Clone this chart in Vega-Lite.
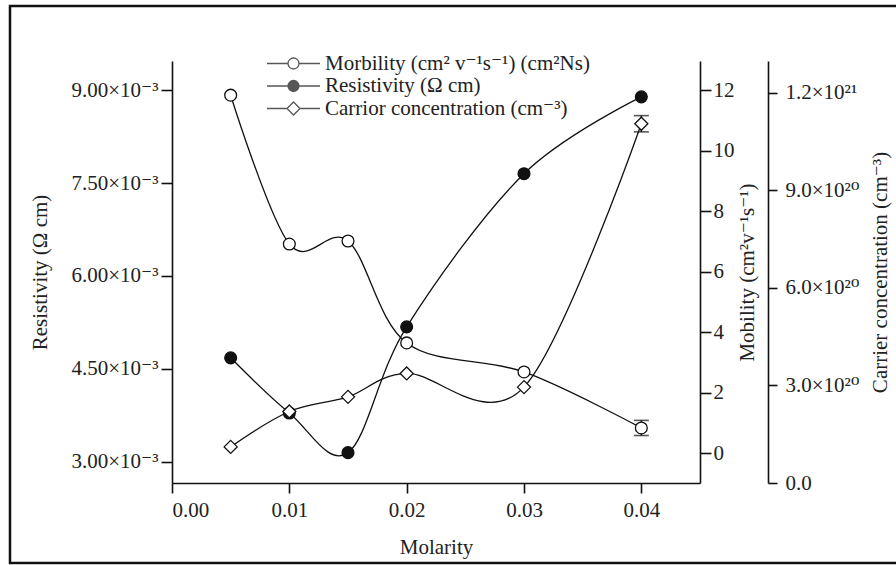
{
  "$schema": "https://vega.github.io/schema/vega-lite/v6.json",
  "width": 528,
  "height": 422,
  "autosize": {"type": "none"},
  "padding": {"left": 172, "top": 61, "right": 196, "bottom": 82},
  "background": "white",
  "config": {
    "view": {"stroke": null},
    "font": "Liberation Serif, DejaVu Serif, serif",
    "axis": {
      "grid": false,
      "domainColor": "#111111",
      "domainWidth": 1.6,
      "tickColor": "#111111",
      "tickWidth": 1.6,
      "labelColor": "#222222",
      "labelFont": "Liberation Serif, DejaVu Serif, serif",
      "labelFontSize": 21,
      "titleFont": "Liberation Serif, DejaVu Serif, serif",
      "titleFontSize": 21,
      "titleFontWeight": "normal",
      "titleColor": "#222222"
    },
    "legend": {
      "padding": 0,
      "labelFont": "Liberation Serif, DejaVu Serif, serif",
      "labelFontSize": 21,
      "labelColor": "#222222",
      "labelLimit": 0
    }
  },
  "datasets": {
    "main": [
      {"molarity": 0.005, "mobility": 11.83, "resistivity": 0.00468, "carrier": 1.11e20},
      {"molarity": 0.01, "mobility": 6.91, "resistivity": 0.00379, "carrier": 2.2e20},
      {"molarity": 0.015, "mobility": 7.01, "resistivity": 0.00315, "carrier": 2.65e20},
      {"molarity": 0.02, "mobility": 3.64, "resistivity": 0.00518, "carrier": 3.37e20},
      {"molarity": 0.03, "mobility": 2.68, "resistivity": 0.00765, "carrier": 2.95e20},
      {"molarity": 0.04, "mobility": 0.83, "resistivity": 0.00889, "carrier": 1.105e21}
    ],
    "err": [
      {"molarity": 0.04, "mob_lo": 0.58, "mob_hi": 1.08, "car_lo": 1.08e21, "car_hi": 1.13e21}
    ],
    "legend": [
      {"series": "Morbility (cm² v⁻¹s⁻¹) (cm²Ns)"},
      {"series": "Resistivity (Ω cm)"},
      {"series": "Carrior concentration (cm⁻³)"}
    ]
  },
  "resolve": {"scale": {"y": "independent"}, "axis": {"y": "independent"}},
  "layer": [
    {
      "data": {"values": [{"frame": "border"}]},
      "mark": {"type": "rect", "filled": false, "color": "#111111", "strokeWidth": 2.5},
      "encoding": {
        "x": {"datum": -0.013807, "type": "quantitative", "title": "Molarity", "scale": {"domain": [0, 0.045], "nice": false, "zero": false}},
        "x2": {"datum": 0.06188},
        "y": {"datum": 14.777, "type": "quantitative", "axis": null, "scale": {"domain": [-0.99, 12.96], "nice": false, "zero": false}},
        "y2": {"datum": -3.636}
      }
    },
    {
      "data": {"name": "main"},
      "mark": {"type": "line", "interpolate": "cardinal", "color": "#111111", "strokeWidth": 1.3},
      "encoding": {
        "x": {
          "field": "molarity", "type": "quantitative", "title": "Molarity",
          "scale": {"domain": [0, 0.045], "nice": false, "zero": false},
          "axis": {"values": [0, 0.01, 0.02, 0.03, 0.04], "format": ".2f", "tickSize": 10, "labelPadding": 6, "titleY": 64, "titleBaseline": "middle"}
        },
        "y": {
          "field": "mobility", "type": "quantitative", "title": "Mobility (cm²v⁻¹s⁻¹)",
          "scale": {"domain": [-0.99, 12.96], "nice": false, "zero": false},
          "axis": {"orient": "right", "values": [0, 2, 4, 6, 8, 10, 12], "tickSize": 11, "labelPadding": 2, "titleX": 47, "titleY": 211, "titleAngle": 270, "titleBaseline": "middle", "titleAlign": "center"}
        }
      }
    },
    {
      "data": {"name": "main"},
      "mark": {"type": "line", "interpolate": "cardinal", "color": "#111111", "strokeWidth": 1.3},
      "encoding": {
        "x": {"field": "molarity", "type": "quantitative", "title": "Molarity", "scale": {"domain": [0, 0.045], "nice": false, "zero": false}},
        "y": {
          "field": "resistivity", "type": "quantitative", "title": "Resistivity (Ω cm)",
          "scale": {"domain": [0.002661, 0.009468], "nice": false, "zero": false},
          "axis": {"orient": "left", "values": [0.003, 0.0045, 0.006, 0.0075, 0.009], "labelExpr": "format(datum.value*1000, '.2f') + '×10⁻³'", "tickSize": 11, "labelPadding": 3, "titleX": -132, "titleY": 211, "titleAngle": 270, "titleBaseline": "middle", "titleAlign": "center"}
        }
      }
    },
    {
      "data": {"name": "main"},
      "mark": {"type": "line", "interpolate": "cardinal", "color": "#111111", "strokeWidth": 1.3},
      "encoding": {
        "x": {"field": "molarity", "type": "quantitative", "title": "Molarity", "scale": {"domain": [0, 0.045], "nice": false, "zero": false}},
        "y": {
          "field": "carrier", "type": "quantitative", "title": "Carrier concentration (cm⁻³)",
          "scale": {"domain": [0, 1.298e21], "nice": false, "zero": false},
          "axis": {"orient": "right", "offset": 68, "values": [0, 3e20, 6e20, 9e20, 1.2e21], "labelExpr": "datum.value == 0 ? '0.0' : (datum.value < 1e21 ? format(datum.value/1e20, '.1f') + '×10²⁰' : format(datum.value/1e21, '.1f') + '×10²¹')", "tickSize": 9, "labelPadding": 8, "titleX": 112, "titleY": 211, "titleAngle": 270, "titleBaseline": "middle", "titleAlign": "center"}
        }
      }
    },
    {
      "data": {"name": "err"},
      "mark": {"type": "rule", "color": "#111111", "strokeWidth": 1.5},
      "encoding": {
        "x": {"field": "molarity", "type": "quantitative", "title": "Molarity", "scale": {"domain": [0, 0.045], "nice": false, "zero": false}},
        "y": {"field": "mob_lo", "type": "quantitative", "axis": null, "scale": {"domain": [-0.99, 12.96], "nice": false, "zero": false}},
        "y2": {"field": "mob_hi"}
      }
    },
    {
      "data": {"name": "err"},
      "transform": [{"fold": ["mob_lo", "mob_hi"], "as": ["end", "val"]}],
      "mark": {"type": "tick", "orient": "horizontal", "size": 15, "thickness": 1.6, "color": "#111111"},
      "encoding": {
        "x": {"field": "molarity", "type": "quantitative", "title": "Molarity", "scale": {"domain": [0, 0.045], "nice": false, "zero": false}},
        "y": {"field": "val", "type": "quantitative", "axis": null, "scale": {"domain": [-0.99, 12.96], "nice": false, "zero": false}}
      }
    },
    {
      "data": {"name": "err"},
      "mark": {"type": "rule", "color": "#111111", "strokeWidth": 1.5},
      "encoding": {
        "x": {"field": "molarity", "type": "quantitative", "title": "Molarity", "scale": {"domain": [0, 0.045], "nice": false, "zero": false}},
        "y": {"field": "car_lo", "type": "quantitative", "axis": null, "scale": {"domain": [0, 1.298e21], "nice": false, "zero": false}},
        "y2": {"field": "car_hi"}
      }
    },
    {
      "data": {"name": "err"},
      "transform": [{"fold": ["car_lo", "car_hi"], "as": ["end", "val"]}],
      "mark": {"type": "tick", "orient": "horizontal", "size": 15, "thickness": 1.6, "color": "#111111"},
      "encoding": {
        "x": {"field": "molarity", "type": "quantitative", "title": "Molarity", "scale": {"domain": [0, 0.045], "nice": false, "zero": false}},
        "y": {"field": "val", "type": "quantitative", "axis": null, "scale": {"domain": [0, 1.298e21], "nice": false, "zero": false}}
      }
    },
    {
      "data": {"name": "main"},
      "mark": {"type": "point", "shape": "circle", "filled": true, "fill": "white", "stroke": "#111111", "strokeWidth": 1.3, "size": 140, "opacity": 1},
      "encoding": {
        "x": {"field": "molarity", "type": "quantitative", "title": "Molarity", "scale": {"domain": [0, 0.045], "nice": false, "zero": false}},
        "y": {"field": "mobility", "type": "quantitative", "axis": null, "scale": {"domain": [-0.99, 12.96], "nice": false, "zero": false}}
      }
    },
    {
      "data": {"name": "main"},
      "mark": {"type": "point", "shape": "circle", "filled": true, "fill": "#111111", "stroke": "#111111", "strokeWidth": 1.3, "size": 140, "opacity": 1},
      "encoding": {
        "x": {"field": "molarity", "type": "quantitative", "title": "Molarity", "scale": {"domain": [0, 0.045], "nice": false, "zero": false}},
        "y": {"field": "resistivity", "type": "quantitative", "axis": null, "scale": {"domain": [0.002661, 0.009468], "nice": false, "zero": false}}
      }
    },
    {
      "data": {"name": "main"},
      "mark": {"type": "point", "shape": "diamond", "filled": true, "fill": "white", "stroke": "#111111", "strokeWidth": 1.3, "size": 170, "opacity": 1},
      "encoding": {
        "x": {"field": "molarity", "type": "quantitative", "title": "Molarity", "scale": {"domain": [0, 0.045], "nice": false, "zero": false}},
        "y": {"field": "carrier", "type": "quantitative", "axis": null, "scale": {"domain": [0, 1.298e21], "nice": false, "zero": false}}
      }
    },
    {
      "data": {"name": "legend"},
      "transform": [{"filter": "false"}],
      "mark": {"type": "point", "filled": false, "color": "#111111", "strokeWidth": 1.3, "size": 100},
      "encoding": {
        "shape": {
          "field": "series", "type": "nominal",
          "scale": {
            "domain": ["Morbility (cm² v⁻¹s⁻¹) (cm²Ns)", "Resistivity (Ω cm)", "Carrior concentration (cm⁻³)"],
            "range": [
              "M-5.3,0H-1.1M1.1,0H5.3M-1.1,0A1.1,1.1,0,1,0,1.1,0A1.1,1.1,0,1,0,-1.1,0",
              "M-5.3,0H-1.1M1.1,0H5.3M-1.1,0A1.1,1.1,0,1,0,1.1,0A1.1,1.1,0,1,0,-1.1,0M-0.85,0A0.85,0.85,0,1,0,0.85,0A0.85,0.85,0,1,0,-0.85,0M-0.6,0A0.6,0.6,0,1,0,0.6,0A0.6,0.6,0,1,0,-0.6,0M-0.35,0A0.35,0.35,0,1,0,0.35,0A0.35,0.35,0,1,0,-0.35,0M-0.12,0A0.12,0.12,0,1,0,0.12,0A0.12,0.12,0,1,0,-0.12,0",
              "M-5.3,0H-1.3M1.3,0H5.3M-1.3,0L0,-1.3L1.3,0L0,1.3Z"
            ]
          },
          "legend": {"orient": "none", "legendX": 111, "legendY": -8, "title": null, "symbolStrokeColor": "#111111", "symbolStrokeWidth": 1.3, "symbolSize": 100, "labelOffset": 21, "rowPadding": 0.5}
        }
      }
    }
  ]
}
